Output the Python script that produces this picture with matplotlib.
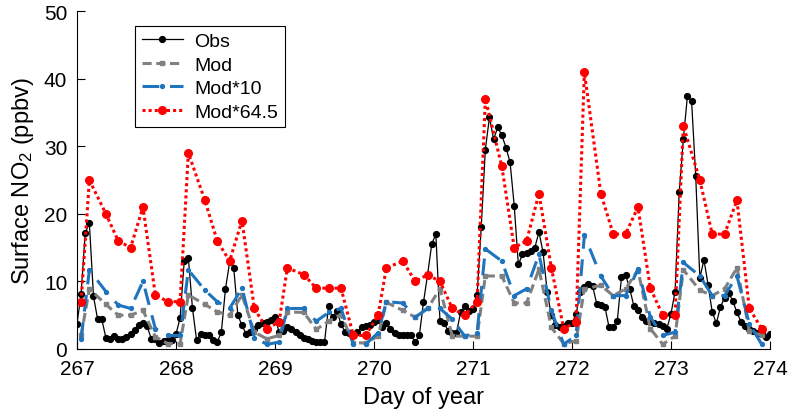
import numpy as np
import matplotlib
matplotlib.use('Agg')
import matplotlib.pyplot as plt

plt.rcParams['font.family'] = ['Liberation Sans', 'DejaVu Sans']
plt.rcParams['mathtext.fontset'] = 'custom'
plt.rcParams['mathtext.rm'] = 'Liberation Sans'
plt.rcParams['mathtext.default'] = 'regular'

# days plotted
days = [267, 268, 269, 270, 271, 272, 273]
# model output hours within each day
mod_hours = [1, 3, 7, 10, 13, 16, 19, 22]

# hourly observations, one row per day (00h..23h), plus the last point at 274.0
obs_267 = [3.7, 8.2, 17.2, 18.6, 7.8, 4.4, 4.4, 1.7, 1.5, 1.9, 1.5, 1.5,
           1.8, 2.2, 2.8, 3.6, 3.8, 3.4, 1.5, 1.5, 0.9, 1.2, 1.4, 1.4]
obs_268 = [2.2, 4.6, 13.0, 13.5, 6.0, 1.3, 2.2, 2.0, 2.0, 1.3, 1.0, 2.5,
           8.9, 12.8, 12.0, 5.0, 3.5, 2.2, 2.5, 3.0, 3.5, 3.8, 4.0, 4.3]
obs_269 = [4.7, 2.5, 2.7, 3.3, 2.9, 2.5, 2.0, 1.7, 1.5, 1.2, 1.1, 1.0,
           1.0, 6.3, 4.7, 5.6, 3.7, 2.5, 2.4, 2.1, 2.5, 3.3, 3.4, 3.6]
obs_270 = [4.0, 4.3, 3.3, 3.8, 3.0, 2.3, 2.0, 2.0, 2.0, 2.0, 1.0, 2.0,
           6.9, 11.0, 15.5, 17.0, 4.2, 3.8, 2.7, 2.4, 2.4, 5.4, 6.3, 5.6]
obs_271 = [5.9, 8.0, 18.0, 29.5, 34.3, 31.0, 32.8, 31.6, 29.8, 27.6, 21.2, 12.5,
           14.0, 14.2, 14.5, 15.0, 17.3, 14.3, 8.4, 5.0, 3.6, 3.2, 3.4, 3.8]
obs_272 = [3.8, 5.2, 8.4, 9.1, 9.6, 9.3, 6.7, 6.5, 6.2, 3.2, 3.2, 4.2,
           10.6, 11.0, 8.9, 6.4, 5.7, 4.7, 4.2, 4.0, 3.8, 3.7, 3.4, 3.0]
obs_273 = [5.2, 8.5, 23.2, 31.0, 37.5, 36.7, 25.6, 10.5, 13.2, 9.5, 5.5, 3.8,
           6.2, 7.6, 8.3, 7.1, 5.4, 4.0, 3.4, 3.0, 2.6, 2.4, 2.5, 1.8]
obs_end = [2.2]

# model, 8 values per day
mod = [2.0, 8.9, 6.6, 5.0, 5.0, 5.7, 1.8, 0.8,
       0.8, 8.0, 6.6, 5.5, 5.0, 8.0, 2.5, 1.5,
       2.0, 5.5, 5.4, 2.9, 4.1, 5.1, 0.9, 0.9,
       1.9, 6.9, 5.7, 4.7, 6.0, 8.9, 1.9, 1.9,
       1.9, 10.8, 10.8, 6.8, 6.8, 11.8, 3.2, 0.8,
       1.2, 8.9, 9.4, 7.9, 8.9, 11.7, 3.0, 0.7,
       1.9, 11.7, 8.7, 7.9, 8.9, 12.0, 2.7, 2.0]
mod10 = [1.5, 11.7, 8.5, 6.5, 6.0, 10.0, 3.0, 2.0,
         2.0, 11.7, 8.7, 7.0, 6.0, 9.0, 1.7, 0.7,
         1.0, 6.0, 6.0, 4.1, 5.4, 6.0, 0.7, 0.7,
         2.4, 7.0, 6.8, 4.7, 6.0, 6.0, 4.4, 1.9,
         2.4, 14.8, 13.0, 7.9, 8.9, 14.0, 5.7, 0.7,
         2.0, 16.8, 10.8, 7.9, 7.9, 11.8, 4.7, 2.0,
         2.5, 12.8, 10.8, 7.9, 7.9, 10.8, 3.7, 0.7]
mod645 = [7, 25, 20, 16, 15, 21, 8, 7,
          7, 29, 22, 16, 13, 19, 6, 3,
          4, 12, 11, 9, 9, 9, 2, 2,
          5, 12, 13, 10, 11, 10, 6, 5,
          7, 37, 27, 15, 16, 23, 12, 3,
          4, 41, 23, 17, 17, 21, 9, 5,
          5, 33, 25, 17, 17, 22, 6, 3]

obs = obs_267 + obs_268 + obs_269 + obs_270 + obs_271 + obs_272 + obs_273 + obs_end
t_obs = days[0] + np.arange(len(obs)) / 24.0
t_mod = np.array([d + h / 24.0 for d in days for h in mod_hours])

fig = plt.figure(figsize=(7.88, 4.14), dpi=100)
ax = fig.add_axes([0.0977, 0.1546, 0.8794, 0.8164])

ax.plot(t_obs, obs, color='black', lw=0.9, marker='o', ms=4.2, label='Obs')
ax.plot(t_mod, mod, color='#808080', lw=2.2, ls=(0, (3, 1.5)), marker='s', ms=3.2,
        label='Mod')
ax.plot(t_mod, mod10, color='#1f74bd', lw=2.2, ls=(0, (5.5, 3.5)), marker='o', ms=2.8,
        label='Mod*10')
ax.plot(t_mod, mod645, color='#ff0000', lw=2.2, ls=(0, (1, 1)), marker='o', ms=5.5,
        label='Mod*64.5')

ax.set_xlim(267, 274)
ax.set_ylim(0, 50)
ax.set_xticks(range(267, 275))
ax.set_yticks(range(0, 51, 10))
ax.spines['top'].set_visible(False)
ax.spines['right'].set_visible(False)
ax.tick_params(direction='in', length=6, labelsize=15, pad=7)
ax.set_xlabel('Day of year', fontsize=17, labelpad=6)
ax.set_ylabel('Surface NO$_2$ (ppbv)', fontsize=17, labelpad=6)

leg = ax.legend(loc='upper left', bbox_to_anchor=(0.084, 0.956), fontsize=14,
                fancybox=False, edgecolor='black', framealpha=1, borderaxespad=0,
                handlelength=2.1, borderpad=0.35, labelspacing=0.3, handletextpad=0.6)
leg.get_frame().set_linewidth(0.8)

fig.savefig('out.png', dpi=100)
